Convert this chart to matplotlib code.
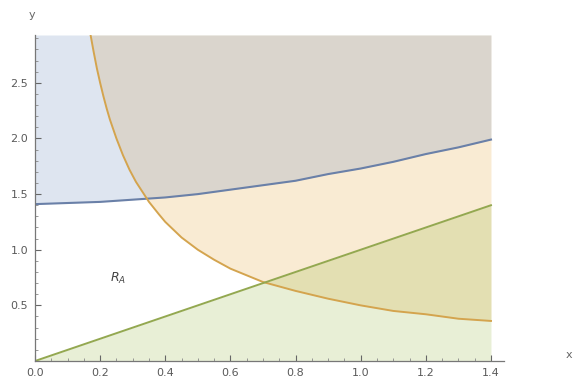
import numpy as np
import matplotlib
matplotlib.use('Agg')
import matplotlib.pyplot as plt
from matplotlib.ticker import MultipleLocator

# upper boundary curve (blue), read at steps of 0.1
blue_x = [0.0, 0.1, 0.2, 0.3, 0.4, 0.5, 0.6, 0.7, 0.8, 0.9, 1.0, 1.1, 1.2, 1.3, 1.4]
blue_y = [1.41, 1.42, 1.43, 1.45, 1.47, 1.50, 1.54, 1.58, 1.62, 1.68, 1.73, 1.79, 1.86, 1.92, 1.99]

# hyperbola-like curve (orange)
orange_x = [0.17, 0.18, 0.19, 0.20, 0.21, 0.22, 0.23, 0.25, 0.27, 0.29, 0.31, 0.33, 0.35,
            0.38, 0.40, 0.45, 0.50, 0.55, 0.60, 0.70, 0.80, 0.90, 1.00, 1.10, 1.20, 1.30, 1.40]
orange_y = [2.94, 2.78, 2.63, 2.50, 2.38, 2.27, 2.17, 2.00, 1.85, 1.72, 1.61, 1.52, 1.43,
            1.32, 1.25, 1.11, 1.00, 0.91, 0.83, 0.71, 0.63, 0.56, 0.50, 0.45, 0.42, 0.38, 0.36]

# straight line (green)
green_x = [0.0, 1.4]
green_y = [0.0, 1.4]

Y_TOP = 2.93
X_TICKS = [0.0, 0.2, 0.4, 0.6, 0.8, 1.0, 1.2, 1.4]
Y_TICKS = [0.5, 1.0, 1.5, 2.0, 2.5]

C_BLUE = '#5E81B5'
C_ORANGE = '#E19C24'
C_GREEN = '#8FB032'

fig = plt.figure(figsize=(5.74, 3.90), dpi=100)
ax = fig.add_axes([35 / 574, 29 / 390, 469 / 574, 326 / 390])
ax.set_xlim(0, 1.44)
ax.set_ylim(0, Y_TOP)

# shaded regions
ax.fill_between(orange_x, orange_y, Y_TOP, color=C_ORANGE, alpha=0.2, lw=0)
ax.fill_between(blue_x, blue_y, Y_TOP, color=C_BLUE, alpha=0.2, lw=0)
ax.fill_between(green_x, 0, green_y, color=C_GREEN, alpha=0.2, lw=0)

# boundary curves
ax.plot(blue_x, blue_y, color='#6A80A8', lw=1.5)
ax.plot(orange_x, orange_y, color='#D4A44E', lw=1.4)
ax.plot(green_x, green_y, color='#93A850', lw=1.4)

ax.text(0.255, 0.74, r'$R_A$', fontsize=9, color='#444444', ha='center', va='center')

# axes through the origin, Mathematica style
for s in ['top', 'right']:
    ax.spines[s].set_visible(False)
for s in ['left', 'bottom']:
    ax.spines[s].set_color('#777777')
    ax.spines[s].set_linewidth(0.9)

ax.set_xticks(X_TICKS)
ax.set_xticklabels(['%.1f' % v for v in X_TICKS])
ax.set_yticks(Y_TICKS)
ax.set_yticklabels(['%.1f' % v for v in Y_TICKS])
ax.xaxis.set_minor_locator(MultipleLocator(0.05))
ax.yaxis.set_minor_locator(MultipleLocator(0.1))
ax.tick_params(which='major', direction='in', length=4, width=0.8, color='#666666',
               labelsize=8, labelcolor='#5a5a5a', pad=5)
ax.tick_params(which='minor', direction='in', length=2, width=0.6, color='#888888')

fig.text(32 / 574, 1 - 15 / 390, 'y', fontsize=8, color='#666666', ha='center', va='center')
fig.text(566 / 574, 1 - 355 / 390, 'x', fontsize=8, color='#666666', ha='left', va='center')

fig.savefig('out.png', dpi=100)
